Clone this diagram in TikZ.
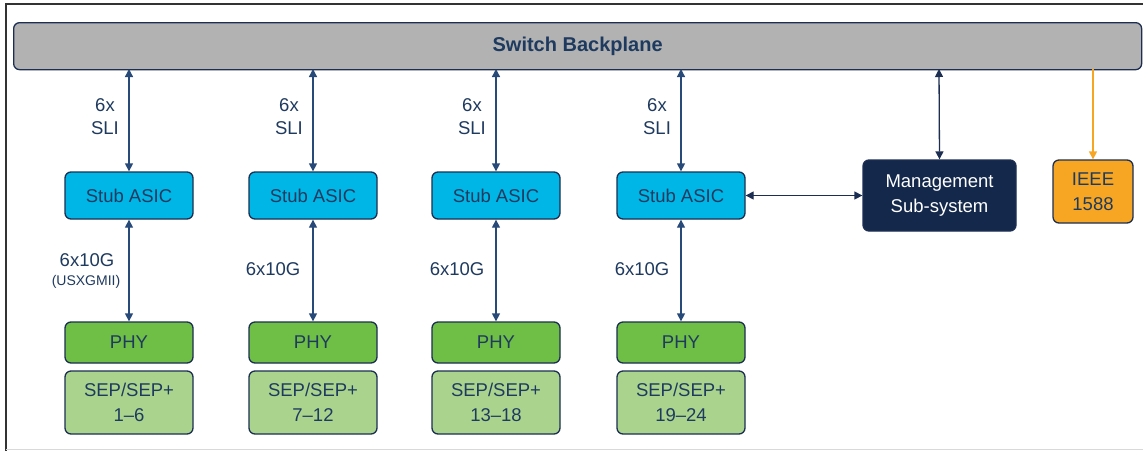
\documentclass[tikz,border=0pt]{standalone}
\usepackage{fontspec}
\setmainfont{Liberation Sans}
\usetikzlibrary{arrows.meta}
\definecolor{navy}{HTML}{1C2F52}
\definecolor{txt}{HTML}{1F3A5F}
\definecolor{arr}{HTML}{284A78}
\definecolor{cyanb}{HTML}{00B6E6}
\definecolor{phyg}{HTML}{6FBE45}
\definecolor{sepg}{HTML}{AAD48E}
\definecolor{grayb}{HTML}{B2B2B2}
\definecolor{mgmt}{HTML}{14284B}
\definecolor{orng}{HTML}{F6A623}
\begin{document}
\begin{tikzpicture}[x=1pt,y=-1pt,
  box/.style={draw=navy,line width=1.3pt,rounded corners=6pt,text=txt,align=center,inner sep=0pt,font=\fontsize{18.5}{25}\selectfont},
  lbl/.style={text=txt,align=center,font=\fontsize{18.5}{23}\selectfont,inner sep=0pt},
  biarr/.style={draw=arr,line width=1.3pt,{Triangle[length=8pt,width=8pt]}-{Triangle[length=8pt,width=8pt]}},
]
\useasboundingbox (0,0) rectangle (1143,451);
\fill[white] (0,0) rectangle (1143,451);
% frame
\draw[line width=2pt,draw=black!80] (1143,4) -- (6,4) -- (6,451);
\draw[line width=1pt,draw=black!15] (6,449) -- (1143,449);
% backplane
\node[box,fill=grayb,minimum width=1128,minimum height=47,anchor=north west,font=\fontsize{20}{22}\selectfont\bfseries] (bp) at (13,22) {Switch Backplane};
% columns
\foreach \i/\cx/\sep in {1/129/{1--6},2/313/{7--12},3/496/{13--18},4/681/{19--24}}{
  \node[box,fill=cyanb,minimum width=128,minimum height=47] (asic\i) at (\cx,195.5) {Stub ASIC};
  \node[box,fill=phyg,minimum width=128,minimum height=41] (phy\i) at (\cx,342.5) {PHY};
  \node[box,fill=sepg,minimum width=128,minimum height=63] (sep\i) at (\cx,402.5) {SEP/SEP+\\\sep};
  \coordinate (top\i) at (\cx,69);
  \draw[biarr] (top\i) -- (asic\i.north);
  \draw[biarr] (asic\i.south) -- (phy\i.north);
  \node[lbl] (sli\i) at (\cx-24,117) {6x\\SLI};
}
\node[lbl] (g1) at (87,260) {6x10G};
\node[lbl,font=\fontsize{14}{16}\selectfont] (u1) at (86,282) {(USXGMII)};
\node[lbl] (g2) at (273,269) {6x10G};
\node[lbl] (g3) at (457,269) {6x10G};
\node[lbl] (g4) at (642,269) {6x10G};
% management
\node[box,fill=mgmt,text=white,minimum width=153,minimum height=71] (mg) at (939.5,195.5) {Management\\Sub-system};
\coordinate (topm) at (939,69);
\draw[biarr,draw=navy] (topm) -- (mg.north);
\draw[biarr,draw=navy] (asic4.east) -- (mg.west);
% IEEE
\node[box,fill=orng,minimum width=80,minimum height=63] (ieee) at (1093,191.5) {IEEE\\1588};
\coordinate (topi) at (1093,69);
\draw[draw=orng,line width=1.3pt,-{Triangle[length=8pt,width=8pt]}] (topi) -- (ieee.north);
\end{tikzpicture}
\end{document}
